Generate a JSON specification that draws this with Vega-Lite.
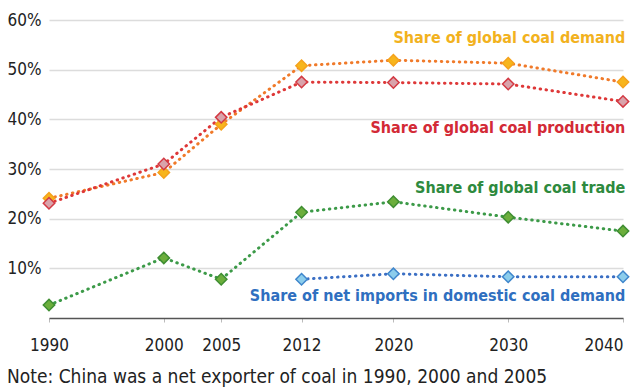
{
  "$schema": "https://vega.github.io/schema/vega-lite/v6.json",
  "autosize": "none",
  "width": 574,
  "height": 298,
  "padding": {"left": 49, "top": 20, "right": 7, "bottom": 69},
  "background": "white",
  "config": {"view": {"stroke": null}, "font": "DejaVu Sans Condensed"},
  "title": {
    "text": "Note: China was a net exporter of coal in 1990, 2000 and 2005",
    "orient": "bottom",
    "anchor": "start",
    "frame": "bounds",
    "font": "DejaVu Sans Condensed",
    "fontSize": 19,
    "fontWeight": "normal",
    "color": "#222",
    "offset": 15
  },
  "datasets": {
    "series": [
      {"series": "a_demand", "year": 1990, "share": 24.1},
      {"series": "a_demand", "year": 2000, "share": 29.3},
      {"series": "a_demand", "year": 2005, "share": 39.0},
      {"series": "a_demand", "year": 2012, "share": 50.8},
      {"series": "a_demand", "year": 2020, "share": 51.9},
      {"series": "a_demand", "year": 2030, "share": 51.3},
      {"series": "a_demand", "year": 2040, "share": 47.5},
      {"series": "b_production", "year": 1990, "share": 23.1},
      {"series": "b_production", "year": 2000, "share": 31.0},
      {"series": "b_production", "year": 2005, "share": 40.4},
      {"series": "b_production", "year": 2012, "share": 47.5},
      {"series": "b_production", "year": 2020, "share": 47.4},
      {"series": "b_production", "year": 2030, "share": 47.1},
      {"series": "b_production", "year": 2040, "share": 43.6},
      {"series": "c_trade", "year": 1990, "share": 2.6},
      {"series": "c_trade", "year": 2000, "share": 12.1},
      {"series": "c_trade", "year": 2005, "share": 7.8},
      {"series": "c_trade", "year": 2012, "share": 21.3},
      {"series": "c_trade", "year": 2020, "share": 23.4},
      {"series": "c_trade", "year": 2030, "share": 20.3},
      {"series": "c_trade", "year": 2040, "share": 17.5},
      {"series": "d_imports", "year": 2012, "share": 7.8},
      {"series": "d_imports", "year": 2020, "share": 8.9},
      {"series": "d_imports", "year": 2030, "share": 8.3},
      {"series": "d_imports", "year": 2040, "share": 8.3}
    ],
    "labels": [
      {"series": "a_demand", "label": "Share of global coal demand", "year": 2040.2, "share": 56.3},
      {"series": "b_production", "label": "Share of global coal production", "year": 2040.2, "share": 38.2},
      {"series": "c_trade", "label": "Share of global coal trade", "year": 2040.2, "share": 26.2},
      {"series": "d_imports", "label": "Share of net imports in domestic coal demand", "year": 2040.2, "share": 4.4}
    ]
  },
  "layer": [
    {
      "data": {"name": "series"},
      "mark": {"type": "line", "strokeWidth": 3, "strokeDash": [0.5, 5.5], "strokeCap": "round"},
      "encoding": {
        "x": {
          "field": "year", "type": "quantitative",
          "scale": {"domain": [1990, 2040], "nice": false, "zero": false},
          "axis": {
            "title": null, "values": [1990, 2000, 2005, 2012, 2020, 2030, 2040],
            "format": "d", "grid": false, "labelFontSize": 17, "labelColor": "#222",
            "labelFont": "DejaVu Sans Condensed", "labelPadding": 15,
            "labelAlign": {"condition": {"test": "datum.value == 2040", "value": "right"}, "value": "center"},
            "domainColor": "#555", "domainWidth": 1.5, "tickColor": "#bbb", "tickSize": 4,
            "labelFlush": false
          }
        },
        "y": {
          "field": "share", "type": "quantitative",
          "scale": {"domain": [0, 60], "nice": false},
          "axis": {
            "title": null, "values": [10, 20, 30, 40, 50, 60],
            "labelExpr": "datum.value + '%'", "domain": false, "ticks": false,
            "grid": true, "gridColor": "#dcdcdc", "gridWidth": 1.5,
            "labelFontSize": 17, "labelColor": "#222", "labelFont": "DejaVu Sans Condensed",
            "labelPadding": 8
          }
        },
        "color": {
          "field": "series", "type": "nominal", "legend": null,
          "scale": {"domain": ["a_demand", "b_production", "c_trade", "d_imports"],
                    "range": ["#f07a2a", "#de3838", "#3c9a48", "#3b6fc4"]}
        }
      }
    },
    {
      "data": {"name": "series"},
      "mark": {"type": "point", "shape": "diamond", "size": 130, "strokeWidth": 1.5, "filled": false, "opacity": 1},
      "encoding": {
        "x": {"field": "year", "type": "quantitative"},
        "y": {"field": "share", "type": "quantitative"},
        "fill": {
          "field": "series", "type": "nominal", "legend": null,
          "scale": {"domain": ["a_demand", "b_production", "c_trade", "d_imports"],
                    "range": ["#f7b51c", "#d9a3ab", "#6cae3c", "#8ccdec"]}
        },
        "stroke": {
          "field": "series", "type": "nominal", "legend": null,
          "scale": {"domain": ["a_demand", "b_production", "c_trade", "d_imports"],
                    "range": ["#f5a21c", "#d33a44", "#3f8e32", "#3f86cc"]}
        }
      }
    },
    {
      "data": {"name": "labels"},
      "mark": {"type": "text", "align": "right", "baseline": "middle", "font": "DejaVu Sans Condensed", "fontWeight": "bold", "fontSize": 16},
      "encoding": {
        "x": {"field": "year", "type": "quantitative"},
        "y": {"field": "share", "type": "quantitative"},
        "text": {"field": "label"},
        "color": {"field": "series", "type": "nominal", "legend": null,
          "scale": {"domain": ["a_demand", "b_production", "c_trade", "d_imports"],
                    "range": ["#f2b21e", "#d32a36", "#2e8a3e", "#2f6fc0"]}}
      }
    }
  ],
  "resolve": {"scale": {"color": "independent"}}
}
